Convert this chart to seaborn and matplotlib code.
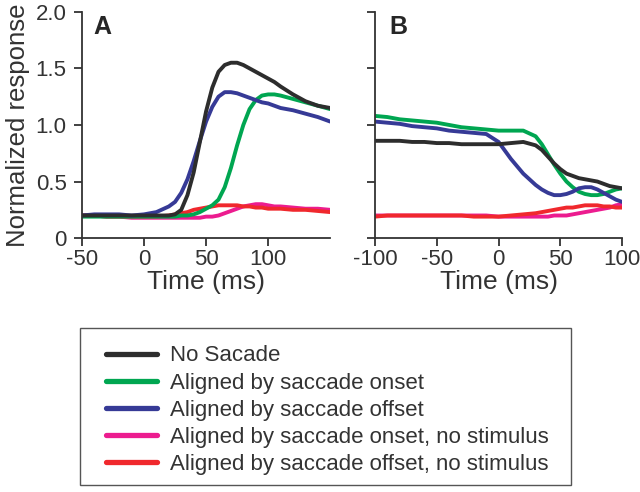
import numpy as np
import pandas as pd
import seaborn as sns
import matplotlib.pyplot as plt
from matplotlib.lines import Line2D
from matplotlib.patches import Rectangle

# Panel A: time relative to stimulus (ms)
time_a = [-50, -40, -30, -20, -10, 0, 10, 20, 25, 30, 35, 40, 45, 50, 55, 60, 65, 70, 75, 80,
          85, 90, 95, 100, 105, 110, 120, 130, 140, 150]
no_sacade_a = [0.20, 0.20, 0.20, 0.20, 0.20, 0.20, 0.20, 0.20, 0.21, 0.25, 0.38, 0.58, 0.85, 1.12, 1.33,
               1.47, 1.53, 1.55, 1.55, 1.53, 1.50, 1.47, 1.44, 1.41, 1.38, 1.34, 1.27, 1.21, 1.17, 1.15]
onset_a = [0.19, 0.19, 0.19, 0.19, 0.19, 0.19, 0.19, 0.19, 0.19, 0.20, 0.20, 0.21, 0.23, 0.26, 0.29,
           0.34, 0.45, 0.62, 0.82, 1.00, 1.14, 1.22, 1.26, 1.27, 1.27, 1.26, 1.23, 1.20, 1.17, 1.14]
offset_a = [0.20, 0.21, 0.21, 0.21, 0.20, 0.21, 0.23, 0.28, 0.32, 0.40, 0.52, 0.68, 0.86, 1.03, 1.16,
            1.25, 1.29, 1.29, 1.28, 1.26, 1.24, 1.22, 1.20, 1.19, 1.17, 1.15, 1.13, 1.10, 1.07, 1.03]
onset_nostim_a = [0.20, 0.20, 0.19, 0.19, 0.18, 0.18, 0.18, 0.18, 0.18, 0.18, 0.18, 0.18, 0.18, 0.19, 0.19,
                  0.20, 0.22, 0.24, 0.26, 0.28, 0.29, 0.30, 0.30, 0.29, 0.28, 0.28, 0.27, 0.26, 0.26, 0.25]
offset_nostim_a = [0.20, 0.20, 0.19, 0.19, 0.19, 0.19, 0.19, 0.20, 0.21, 0.22, 0.23, 0.25, 0.26, 0.27, 0.28,
                   0.29, 0.29, 0.29, 0.29, 0.28, 0.28, 0.27, 0.27, 0.26, 0.26, 0.26, 0.25, 0.25, 0.24, 0.23]

# Panel B: time relative to saccade (ms)
time_b = [-100, -90, -80, -70, -60, -50, -40, -30, -20, -10, 0, 10, 20, 30, 35, 40, 45, 50, 55, 60,
          65, 70, 75, 80, 85, 90, 95, 100]
no_sacade_b = [0.86, 0.86, 0.86, 0.85, 0.85, 0.84, 0.84, 0.83, 0.83, 0.83, 0.83, 0.84, 0.85, 0.82, 0.78,
               0.72, 0.66, 0.61, 0.57, 0.55, 0.53, 0.52, 0.51, 0.50, 0.48, 0.46, 0.45, 0.44]
onset_b = [1.08, 1.07, 1.05, 1.04, 1.03, 1.02, 1.00, 0.98, 0.97, 0.96, 0.95, 0.95, 0.95, 0.90, 0.83,
           0.74, 0.65, 0.57, 0.50, 0.45, 0.41, 0.39, 0.38, 0.38, 0.39, 0.41, 0.43, 0.44]
offset_b = [1.03, 1.02, 1.01, 0.99, 0.98, 0.97, 0.95, 0.94, 0.93, 0.92, 0.85, 0.70, 0.57, 0.47, 0.43,
            0.40, 0.38, 0.38, 0.39, 0.41, 0.44, 0.45, 0.45, 0.43, 0.40, 0.37, 0.34, 0.32]
onset_nostim_b = [0.20, 0.20, 0.20, 0.20, 0.20, 0.20, 0.20, 0.20, 0.20, 0.20, 0.19, 0.19, 0.19, 0.19, 0.19,
                  0.19, 0.20, 0.20, 0.20, 0.21, 0.22, 0.23, 0.24, 0.25, 0.26, 0.27, 0.29, 0.30]
offset_nostim_b = [0.19, 0.20, 0.20, 0.20, 0.20, 0.20, 0.20, 0.20, 0.19, 0.19, 0.19, 0.20, 0.21, 0.22, 0.23,
                   0.24, 0.25, 0.26, 0.27, 0.27, 0.28, 0.29, 0.29, 0.29, 0.28, 0.28, 0.27, 0.27]

labels = ["No Sacade", "Aligned by saccade onset", "Aligned by saccade offset",
          "Aligned by saccade onset, no stimulus", "Aligned by saccade offset, no stimulus"]
colors = ["#2d2d2d", "#00a651", "#363a96", "#ec1c8f", "#f0282d"]
palette = dict(zip(labels, colors))

def long_df(t, series):
    frames = [pd.DataFrame({"time": t, "resp": s, "cond": lab}) for lab, s in zip(labels, series)]
    return pd.concat(frames, ignore_index=True)

df_a = long_df(time_a, [no_sacade_a, onset_a, offset_a, onset_nostim_a, offset_nostim_a])
df_b = long_df(time_b, [no_sacade_b, onset_b, offset_b, onset_nostim_b, offset_nostim_b])

sns.set_style("ticks")
plt.rcParams['font.family'] = ['Liberation Sans', 'DejaVu Sans']
plt.rcParams['axes.unicode_minus'] = False
txt = "#333333"

fig = plt.figure(figsize=(6.4, 4.92), dpi=100)
ax_a = fig.add_axes([0.128, 0.516, 0.388, 0.46])
ax_b = fig.add_axes([0.586, 0.516, 0.386, 0.46])

# draw order: nostim lines underneath
order = [labels[3], labels[4], labels[1], labels[2], labels[0]]
for ax, df in [(ax_a, df_a), (ax_b, df_b)]:
    for lab in order:
        sub = df[df["cond"] == lab]
        sns.lineplot(data=sub, x="time", y="resp", color=palette[lab], lw=2.8, ax=ax, legend=False)
    sns.despine(ax=ax)
    ax.set_ylim(0, 2.0)
    ax.set_yticks([0, 0.5, 1.0, 1.5, 2.0])
    for sp in ["left", "bottom"]:
        ax.spines[sp].set_color("#333333")
        ax.spines[sp].set_linewidth(1.3)
    ax.tick_params(colors="#333333", labelcolor=txt, labelsize=16, length=6, width=1.3)
    ax.tick_params(axis="x", pad=2)
    ax.tick_params(axis="y", pad=5)
    ax.set_xlabel("Time (ms)", fontsize=19, color=txt, labelpad=0)
    ax.set_ylabel("")

ax_a.set_xlim(-50, 150)
ax_a.set_xticks([-50, 0, 50, 100])
ax_a.set_yticklabels(["0", "0.5", "1.0", "1.5", "2.0"])
ax_a.set_ylabel("Normalized response", fontsize=18.5, color=txt, labelpad=4)
ax_b.set_xlim(-100, 100)
ax_b.set_xticks([-100, -50, 0, 50, 100])
ax_b.set_yticklabels([])

ax_a.text(0.045, 0.985, "A", transform=ax_a.transAxes, fontsize=18, fontweight="bold", va="top")
ax_b.text(0.06, 0.985, "B", transform=ax_b.transAxes, fontsize=18, fontweight="bold", va="top")

# legend box below the panels
fig.patches.append(Rectangle((0.125, 0.0142), 0.767, 0.319, transform=fig.transFigure,
                             fill=False, edgecolor="#555555", lw=1.0))
handles = [Line2D([], [], color=c, lw=3.8) for c in colors]
leg = fig.legend(handles, labels, loc="upper left", bbox_to_anchor=(0.165, 0.298),
                 fontsize=16, frameon=False, handlelength=2.3, handletextpad=0.6,
                 labelspacing=0.28, borderpad=0, borderaxespad=0)
for t in leg.get_texts():
    t.set_color(txt)

fig.savefig("out.png", dpi=100)
